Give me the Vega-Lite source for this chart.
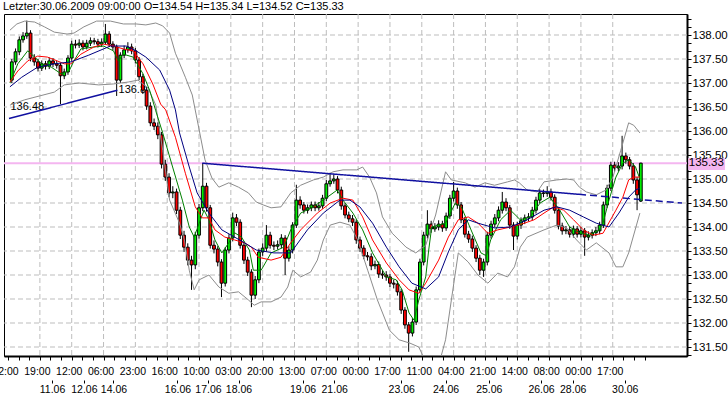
{
"$schema": "https://vega.github.io/schema/vega-lite/v6.json",
"width": 683, "height": 342,
"autosize": "none",
"padding": {"left": 4, "top": 14, "right": 41, "bottom": 43},
"background": "white",
"title": {"text": "Letzter:30.06.2009 09:00:00 O=134.54 H=135.34 L=134.52 C=135.33", "anchor": "start", "frame": "group", "offset": 1, "dy": 9, "baseline": "alphabetic", "font": "Liberation Sans", "fontSize": 11, "fontWeight": "normal", "color": "black", "dx": -1},
"config": {"view": {"stroke": "black", "strokeWidth": 1}, "font": "Liberation Sans"},
"datasets": {
"candles": [
{"b":1,"o":137.06,"h":137.50,"l":137.00,"c":137.44},
{"b":3,"o":137.44,"h":137.72,"l":137.38,"c":137.65},
{"b":5,"o":137.65,"h":137.97,"l":137.58,"c":137.90},
{"b":7,"o":137.90,"h":138.06,"l":137.84,"c":137.98},
{"b":9,"o":137.98,"h":138.30,"l":137.92,"c":138.04},
{"b":11,"o":138.04,"h":138.10,"l":137.45,"c":137.52},
{"b":13,"o":137.52,"h":137.60,"l":137.36,"c":137.44},
{"b":15,"o":137.44,"h":137.50,"l":137.24,"c":137.31},
{"b":17,"o":137.31,"h":137.47,"l":137.25,"c":137.40},
{"b":19,"o":137.40,"h":137.46,"l":137.28,"c":137.35},
{"b":21,"o":137.35,"h":137.53,"l":137.29,"c":137.46},
{"b":23,"o":137.46,"h":137.52,"l":137.33,"c":137.40},
{"b":25,"o":137.40,"h":137.46,"l":137.30,"c":137.37},
{"b":27,"o":137.37,"h":137.42,"l":136.56,"c":137.15},
{"b":29,"o":137.15,"h":137.30,"l":137.08,"c":137.23},
{"b":31,"o":137.23,"h":137.58,"l":137.17,"c":137.52},
{"b":33,"o":137.52,"h":137.88,"l":137.46,"c":137.81},
{"b":35,"o":137.81,"h":137.90,"l":137.72,"c":137.79},
{"b":37,"o":137.79,"h":137.91,"l":137.73,"c":137.83},
{"b":39,"o":137.83,"h":137.89,"l":137.68,"c":137.75},
{"b":41,"o":137.75,"h":137.90,"l":137.70,"c":137.83},
{"b":43,"o":137.83,"h":137.95,"l":137.77,"c":137.88},
{"b":45,"o":137.88,"h":137.94,"l":137.80,"c":137.86},
{"b":47,"o":137.86,"h":137.92,"l":137.74,"c":137.81},
{"b":49,"o":137.81,"h":137.93,"l":137.75,"c":137.85},
{"b":51,"o":137.85,"h":138.23,"l":137.80,"c":138.02},
{"b":53,"o":138.02,"h":138.08,"l":137.75,"c":137.81},
{"b":55,"o":137.81,"h":137.87,"l":137.68,"c":137.75},
{"b":57,"o":137.75,"h":137.80,"l":136.73,"c":137.06},
{"b":59,"o":137.06,"h":137.64,"l":137.00,"c":137.58},
{"b":61,"o":137.58,"h":137.78,"l":137.52,"c":137.69},
{"b":63,"o":137.69,"h":137.85,"l":137.63,"c":137.75},
{"b":65,"o":137.75,"h":137.82,"l":137.60,"c":137.67},
{"b":67,"o":137.67,"h":137.73,"l":137.41,"c":137.48},
{"b":69,"o":137.48,"h":137.54,"l":137.06,"c":137.13},
{"b":71,"o":137.13,"h":137.19,"l":136.77,"c":136.85},
{"b":73,"o":136.85,"h":136.92,"l":136.44,"c":136.52},
{"b":75,"o":136.52,"h":136.60,"l":136.10,"c":136.17},
{"b":77,"o":136.17,"h":136.26,"l":136.02,"c":136.10},
{"b":79,"o":136.10,"h":136.18,"l":135.83,"c":135.92},
{"b":81,"o":135.92,"h":135.98,"l":135.22,"c":135.31},
{"b":83,"o":135.31,"h":135.40,"l":134.96,"c":135.04},
{"b":85,"o":135.04,"h":135.12,"l":134.62,"c":134.71},
{"b":87,"o":134.71,"h":134.85,"l":134.60,"c":134.73},
{"b":89,"o":134.73,"h":134.80,"l":134.27,"c":134.35},
{"b":91,"o":134.35,"h":134.42,"l":133.75,"c":133.83},
{"b":93,"o":133.83,"h":133.92,"l":133.48,"c":133.58},
{"b":95,"o":133.58,"h":133.66,"l":133.20,"c":133.31},
{"b":97,"o":133.31,"h":133.40,"l":132.69,"c":133.21},
{"b":99,"o":133.21,"h":133.90,"l":133.12,"c":133.83},
{"b":101,"o":133.83,"h":134.48,"l":133.76,"c":134.40},
{"b":103,"o":134.40,"h":135.33,"l":134.33,"c":134.85},
{"b":105,"o":134.85,"h":134.92,"l":134.32,"c":134.40},
{"b":107,"o":134.40,"h":134.46,"l":133.55,"c":133.62},
{"b":109,"o":133.62,"h":133.72,"l":133.45,"c":133.54},
{"b":111,"o":133.54,"h":133.60,"l":133.18,"c":133.27},
{"b":113,"o":133.27,"h":133.33,"l":132.54,"c":132.83},
{"b":115,"o":132.83,"h":133.58,"l":132.76,"c":133.52},
{"b":117,"o":133.52,"h":133.85,"l":133.45,"c":133.77},
{"b":119,"o":133.77,"h":134.30,"l":133.70,"c":134.19},
{"b":121,"o":134.19,"h":134.27,"l":134.02,"c":134.10},
{"b":123,"o":134.10,"h":134.16,"l":133.55,"c":133.62},
{"b":125,"o":133.62,"h":133.70,"l":133.23,"c":133.31},
{"b":127,"o":133.31,"h":133.38,"l":132.98,"c":133.06},
{"b":129,"o":133.06,"h":133.12,"l":132.33,"c":132.58},
{"b":131,"o":132.58,"h":132.98,"l":132.50,"c":132.90},
{"b":133,"o":132.90,"h":133.55,"l":132.83,"c":133.48},
{"b":135,"o":133.48,"h":133.66,"l":133.40,"c":133.56},
{"b":137,"o":133.56,"h":134.04,"l":133.49,"c":133.83},
{"b":139,"o":133.83,"h":133.90,"l":133.55,"c":133.62},
{"b":141,"o":133.62,"h":133.70,"l":133.52,"c":133.60},
{"b":143,"o":133.60,"h":133.72,"l":133.53,"c":133.63},
{"b":145,"o":133.63,"h":133.85,"l":133.56,"c":133.77},
{"b":147,"o":133.77,"h":133.83,"l":133.00,"c":133.35},
{"b":149,"o":133.35,"h":133.60,"l":133.28,"c":133.52},
{"b":151,"o":133.52,"h":134.10,"l":133.45,"c":134.04},
{"b":153,"o":134.04,"h":134.88,"l":133.98,"c":134.56},
{"b":155,"o":134.56,"h":134.64,"l":134.38,"c":134.46},
{"b":157,"o":134.46,"h":134.52,"l":134.28,"c":134.35},
{"b":159,"o":134.35,"h":134.47,"l":134.28,"c":134.40},
{"b":161,"o":134.40,"h":134.53,"l":134.33,"c":134.46},
{"b":163,"o":134.46,"h":134.53,"l":134.33,"c":134.40},
{"b":165,"o":134.40,"h":134.52,"l":134.34,"c":134.44},
{"b":167,"o":134.44,"h":134.67,"l":134.38,"c":134.60},
{"b":169,"o":134.60,"h":134.98,"l":134.54,"c":134.90},
{"b":171,"o":134.90,"h":135.13,"l":134.84,"c":134.96},
{"b":173,"o":134.96,"h":135.10,"l":134.90,"c":135.00},
{"b":175,"o":135.00,"h":135.06,"l":134.70,"c":134.77},
{"b":177,"o":134.77,"h":134.84,"l":134.36,"c":134.44},
{"b":179,"o":134.44,"h":134.50,"l":134.18,"c":134.25},
{"b":181,"o":134.25,"h":134.32,"l":134.10,"c":134.17},
{"b":183,"o":134.17,"h":134.25,"l":134.02,"c":134.10},
{"b":185,"o":134.10,"h":134.16,"l":133.65,"c":133.73},
{"b":187,"o":133.73,"h":133.80,"l":133.48,"c":133.56},
{"b":189,"o":133.56,"h":133.62,"l":133.33,"c":133.40},
{"b":191,"o":133.40,"h":133.48,"l":133.30,"c":133.38},
{"b":193,"o":133.38,"h":133.45,"l":133.10,"c":133.19},
{"b":195,"o":133.19,"h":133.30,"l":133.12,"c":133.22},
{"b":197,"o":133.22,"h":133.28,"l":132.94,"c":133.02},
{"b":199,"o":133.02,"h":133.10,"l":132.92,"c":133.00},
{"b":201,"o":133.00,"h":133.08,"l":132.88,"c":132.96},
{"b":203,"o":132.96,"h":133.02,"l":132.75,"c":132.83},
{"b":205,"o":132.83,"h":132.90,"l":132.72,"c":132.81},
{"b":207,"o":132.81,"h":132.88,"l":132.57,"c":132.65},
{"b":209,"o":132.65,"h":132.71,"l":132.19,"c":132.27},
{"b":211,"o":132.27,"h":132.33,"l":131.88,"c":131.96},
{"b":213,"o":131.96,"h":132.02,"l":131.40,"c":131.79},
{"b":215,"o":131.79,"h":132.10,"l":131.72,"c":132.02},
{"b":217,"o":132.02,"h":132.76,"l":131.96,"c":132.69},
{"b":219,"o":132.69,"h":133.34,"l":132.62,"c":133.27},
{"b":221,"o":133.27,"h":133.90,"l":133.20,"c":133.83},
{"b":223,"o":133.83,"h":134.35,"l":133.76,"c":134.06},
{"b":225,"o":134.06,"h":134.13,"l":133.88,"c":133.96},
{"b":227,"o":133.96,"h":134.08,"l":133.90,"c":134.00},
{"b":229,"o":134.00,"h":134.14,"l":133.93,"c":134.06},
{"b":231,"o":134.06,"h":134.13,"l":133.90,"c":133.98},
{"b":233,"o":133.98,"h":134.30,"l":133.92,"c":134.23},
{"b":235,"o":134.23,"h":134.67,"l":134.17,"c":134.60},
{"b":237,"o":134.60,"h":134.94,"l":134.53,"c":134.75},
{"b":239,"o":134.75,"h":134.82,"l":134.38,"c":134.46},
{"b":241,"o":134.46,"h":134.52,"l":134.08,"c":134.15},
{"b":243,"o":134.15,"h":134.21,"l":133.78,"c":133.85},
{"b":245,"o":133.85,"h":133.92,"l":133.67,"c":133.75},
{"b":247,"o":133.75,"h":133.82,"l":133.48,"c":133.56},
{"b":249,"o":133.56,"h":133.62,"l":133.27,"c":133.35},
{"b":251,"o":133.35,"h":133.42,"l":133.00,"c":133.10},
{"b":253,"o":133.10,"h":133.34,"l":132.96,"c":133.27},
{"b":255,"o":133.27,"h":133.90,"l":133.20,"c":133.83},
{"b":257,"o":133.83,"h":134.13,"l":133.76,"c":134.06},
{"b":259,"o":134.06,"h":134.27,"l":133.99,"c":134.19},
{"b":261,"o":134.19,"h":134.43,"l":134.12,"c":134.35},
{"b":263,"o":134.35,"h":134.73,"l":134.28,"c":134.52},
{"b":265,"o":134.52,"h":134.60,"l":134.33,"c":134.40},
{"b":267,"o":134.40,"h":134.46,"l":133.96,"c":134.04},
{"b":269,"o":134.04,"h":134.10,"l":133.52,"c":133.81},
{"b":271,"o":133.81,"h":134.11,"l":133.74,"c":134.04},
{"b":273,"o":134.04,"h":134.20,"l":133.96,"c":134.13},
{"b":275,"o":134.13,"h":134.26,"l":134.06,"c":134.19},
{"b":277,"o":134.19,"h":134.29,"l":134.12,"c":134.21},
{"b":279,"o":134.21,"h":134.42,"l":134.14,"c":134.35},
{"b":281,"o":134.35,"h":134.63,"l":134.28,"c":134.56},
{"b":283,"o":134.56,"h":134.79,"l":134.50,"c":134.71},
{"b":285,"o":134.71,"h":134.78,"l":134.62,"c":134.70},
{"b":287,"o":134.70,"h":134.85,"l":134.63,"c":134.73},
{"b":289,"o":134.73,"h":134.80,"l":134.55,"c":134.62},
{"b":291,"o":134.62,"h":134.68,"l":134.28,"c":134.35},
{"b":293,"o":134.35,"h":134.41,"l":133.95,"c":134.02},
{"b":295,"o":134.02,"h":134.09,"l":133.84,"c":133.92},
{"b":297,"o":133.92,"h":134.02,"l":133.85,"c":133.94},
{"b":299,"o":133.94,"h":134.01,"l":133.78,"c":133.85},
{"b":301,"o":133.85,"h":134.03,"l":133.78,"c":133.96},
{"b":303,"o":133.96,"h":134.02,"l":133.78,"c":133.85},
{"b":305,"o":133.85,"h":134.00,"l":133.78,"c":133.92},
{"b":307,"o":133.92,"h":133.98,"l":133.40,"c":133.79},
{"b":309,"o":133.79,"h":133.91,"l":133.72,"c":133.83},
{"b":311,"o":133.83,"h":133.95,"l":133.76,"c":133.88},
{"b":313,"o":133.88,"h":134.00,"l":133.81,"c":133.92},
{"b":315,"o":133.92,"h":134.11,"l":133.85,"c":134.04},
{"b":317,"o":134.04,"h":134.53,"l":133.98,"c":134.46},
{"b":319,"o":134.46,"h":134.88,"l":134.40,"c":134.81},
{"b":321,"o":134.81,"h":135.36,"l":134.75,"c":135.29},
{"b":323,"o":135.29,"h":135.36,"l":135.15,"c":135.23},
{"b":325,"o":135.23,"h":135.35,"l":135.16,"c":135.27},
{"b":327,"o":135.27,"h":135.90,"l":135.20,"c":135.48},
{"b":329,"o":135.48,"h":135.55,"l":135.32,"c":135.40},
{"b":331,"o":135.40,"h":135.46,"l":135.20,"c":135.27},
{"b":333,"o":135.27,"h":135.33,"l":134.90,"c":134.98},
{"b":335,"o":134.98,"h":135.04,"l":134.35,"c":134.67},
{"b":337,"o":134.54,"h":135.34,"l":134.52,"c":135.33}
],
"ma": [
{"s":"g","b":0,"p":137.00},{"s":"g","b":4.2,"p":137.40},{"s":"g","b":9.5,"p":137.67},{"s":"g","b":13.2,"p":137.54},{"s":"g","b":16.9,"p":137.40},{"s":"g","b":22.1,"p":137.33},{"s":"g","b":27.4,"p":137.19},{"s":"g","b":31.6,"p":137.25},{"s":"g","b":34.2,"p":137.46},{"s":"g","b":37.9,"p":137.71},{"s":"g","b":44.8,"p":137.75},{"s":"g","b":50,"p":137.77},{"s":"g","b":55.3,"p":137.67},{"s":"g","b":57.9,"p":137.46},{"s":"g","b":60.6,"p":137.60},{"s":"g","b":65.8,"p":137.54},{"s":"g","b":71.1,"p":137.19},{"s":"g","b":74.8,"p":136.83},{"s":"g","b":77.9,"p":136.42},{"s":"g","b":81.6,"p":135.96},{"s":"g","b":86.9,"p":135.25},{"s":"g","b":92.1,"p":134.56},{"s":"g","b":95.8,"p":134.00},{"s":"g","b":98.4,"p":133.79},{"s":"g","b":101.1,"p":134.08},{"s":"g","b":103.7,"p":134.35},{"s":"g","b":106.3,"p":134.15},{"s":"g","b":109.5,"p":133.73},{"s":"g","b":113.2,"p":133.46},{"s":"g","b":116.9,"p":133.67},{"s":"g","b":120,"p":133.88},{"s":"g","b":123.7,"p":133.79},{"s":"g","b":127.9,"p":133.52},{"s":"g","b":130,"p":133.10},{"s":"g","b":134.2,"p":133.10},{"s":"g","b":139.5,"p":133.46},{"s":"g","b":146.3,"p":133.58},{"s":"g","b":150,"p":133.94},{"s":"g","b":155.3,"p":134.29},{"s":"g","b":162.1,"p":134.42},{"s":"g","b":169.5,"p":134.62},{"s":"g","b":174.8,"p":134.77},{"s":"g","b":177.9,"p":134.56},{"s":"g","b":183.2,"p":134.29},{"s":"g","b":188.4,"p":133.94},{"s":"g","b":193.7,"p":133.46},{"s":"g","b":201.1,"p":132.96},{"s":"g","b":206.3,"p":132.90},{"s":"g","b":209.5,"p":132.69},{"s":"g","b":213.2,"p":132.21},{"s":"g","b":215.8,"p":132.06},{"s":"g","b":218.4,"p":132.48},{"s":"g","b":222.1,"p":132.96},{"s":"g","b":223.7,"p":133.52},{"s":"g","b":225.3,"p":134.00},{"s":"g","b":232.7,"p":134.08},{"s":"g","b":237.9,"p":134.50},{"s":"g","b":241.1,"p":134.42},{"s":"g","b":246.3,"p":133.94},{"s":"g","b":251.6,"p":133.46},{"s":"g","b":254.5,"p":133.40},{"s":"g","b":256.8,"p":133.73},{"s":"g","b":262.1,"p":134.15},{"s":"g","b":267.4,"p":134.35},{"s":"g","b":272.6,"p":134.15},{"s":"g","b":277.9,"p":134.21},{"s":"g","b":283.2,"p":134.50},{"s":"g","b":288.4,"p":134.62},{"s":"g","b":293.7,"p":134.35},{"s":"g","b":299,"p":134.00},{"s":"g","b":304.2,"p":133.88},{"s":"g","b":309.5,"p":133.83},{"s":"g","b":314.8,"p":133.94},{"s":"g","b":316.8,"p":134.08},{"s":"g","b":320,"p":134.56},{"s":"g","b":323.7,"p":135.04},{"s":"g","b":327.4,"p":135.33},{"s":"g","b":330.5,"p":135.40},{"s":"g","b":334.2,"p":135.25},{"s":"g","b":336.5,"p":135.00},
{"s":"r","b":0,"p":137.02},{"s":"r","b":4.2,"p":137.25},{"s":"r","b":9.5,"p":137.46},{"s":"r","b":14.8,"p":137.56},{"s":"r","b":20,"p":137.54},{"s":"r","b":25.3,"p":137.46},{"s":"r","b":29,"p":137.40},{"s":"r","b":32.6,"p":137.40},{"s":"r","b":37.9,"p":137.60},{"s":"r","b":44.8,"p":137.75},{"s":"r","b":50,"p":137.81},{"s":"r","b":55.3,"p":137.77},{"s":"r","b":60.6,"p":137.71},{"s":"r","b":65.8,"p":137.67},{"s":"r","b":71.1,"p":137.40},{"s":"r","b":76.3,"p":136.98},{"s":"r","b":80.5,"p":136.56},{"s":"r","b":83.2,"p":136.44},{"s":"r","b":88.4,"p":135.87},{"s":"r","b":93.7,"p":135.12},{"s":"r","b":99,"p":134.42},{"s":"r","b":102.7,"p":134.19},{"s":"r","b":106.3,"p":134.19},{"s":"r","b":109.5,"p":133.94},{"s":"r","b":114.8,"p":133.79},{"s":"r","b":120,"p":133.73},{"s":"r","b":125.3,"p":133.67},{"s":"r","b":129,"p":133.58},{"s":"r","b":132.6,"p":133.37},{"s":"r","b":139.5,"p":133.31},{"s":"r","b":144.8,"p":133.37},{"s":"r","b":150,"p":133.67},{"s":"r","b":155.3,"p":133.94},{"s":"r","b":164.2,"p":134.29},{"s":"r","b":171.1,"p":134.50},{"s":"r","b":177.9,"p":134.60},{"s":"r","b":183.2,"p":134.56},{"s":"r","b":188.4,"p":134.21},{"s":"r","b":193.7,"p":133.73},{"s":"r","b":201.1,"p":133.25},{"s":"r","b":207.9,"p":132.90},{"s":"r","b":213.2,"p":132.69},{"s":"r","b":218.4,"p":132.62},{"s":"r","b":222.1,"p":132.83},{"s":"r","b":229,"p":133.31},{"s":"r","b":234.2,"p":133.79},{"s":"r","b":239.5,"p":134.15},{"s":"r","b":244.8,"p":134.21},{"s":"r","b":250,"p":134.08},{"s":"r","b":255.3,"p":133.87},{"s":"r","b":260.6,"p":133.94},{"s":"r","b":267.4,"p":134.00},{"s":"r","b":274.8,"p":134.08},{"s":"r","b":280,"p":134.15},{"s":"r","b":285.3,"p":134.29},{"s":"r","b":290.5,"p":134.42},{"s":"r","b":295.8,"p":134.35},{"s":"r","b":301.1,"p":134.15},{"s":"r","b":306.3,"p":133.94},{"s":"r","b":311.6,"p":133.83},{"s":"r","b":316.8,"p":133.87},{"s":"r","b":323.7,"p":134.35},{"s":"r","b":327.4,"p":134.62},{"s":"r","b":330.5,"p":134.98},{"s":"r","b":333.2,"p":135.04},{"s":"r","b":336.5,"p":135.04},
{"s":"n","b":0,"p":136.92},{"s":"n","b":6.3,"p":137.12},{"s":"n","b":14.8,"p":137.33},{"s":"n","b":23.7,"p":137.40},{"s":"n","b":32.6,"p":137.44},{"s":"n","b":42.1,"p":137.58},{"s":"n","b":50,"p":137.71},{"s":"n","b":53.7,"p":137.77},{"s":"n","b":62.1,"p":137.77},{"s":"n","b":67.4,"p":137.67},{"s":"n","b":72.6,"p":137.54},{"s":"n","b":80,"p":137.27},{"s":"n","b":85.3,"p":136.85},{"s":"n","b":88.4,"p":136.44},{"s":"n","b":90.6,"p":135.96},{"s":"n","b":95.8,"p":135.25},{"s":"n","b":100,"p":134.71},{"s":"n","b":106.3,"p":134.29},{"s":"n","b":113.2,"p":133.94},{"s":"n","b":120,"p":133.79},{"s":"n","b":125.3,"p":133.67},{"s":"n","b":131.6,"p":133.52},{"s":"n","b":141,"p":133.46},{"s":"n","b":150,"p":133.46},{"s":"n","b":158.9,"p":133.94},{"s":"n","b":167.4,"p":134.29},{"s":"n","b":176.3,"p":134.56},{"s":"n","b":181.6,"p":134.56},{"s":"n","b":186.9,"p":134.42},{"s":"n","b":193.7,"p":134.08},{"s":"n","b":201.1,"p":133.58},{"s":"n","b":207.9,"p":133.17},{"s":"n","b":214.7,"p":132.83},{"s":"n","b":222.1,"p":132.71},{"s":"n","b":229,"p":132.96},{"s":"n","b":234.2,"p":133.48},{"s":"n","b":239.5,"p":133.94},{"s":"n","b":244.8,"p":134.15},{"s":"n","b":250,"p":134.08},{"s":"n","b":258.9,"p":133.98},{"s":"n","b":267.4,"p":134.00},{"s":"n","b":276.3,"p":134.15},{"s":"n","b":285.3,"p":134.35},{"s":"n","b":292.1,"p":134.42},{"s":"n","b":299,"p":134.35},{"s":"n","b":306.3,"p":134.21},{"s":"n","b":313.2,"p":134.08},{"s":"n","b":320,"p":134.00},{"s":"n","b":325.3,"p":134.29},{"s":"n","b":330.5,"p":134.62},{"s":"n","b":334.2,"p":134.77},{"s":"n","b":336.5,"p":134.81}
],
"bands": [
{"s":"up","b":0,"p":138.10},{"s":"up","b":3.7,"p":138.23},{"s":"up","b":7.9,"p":138.29},{"s":"up","b":13.2,"p":138.27},{"s":"up","b":18.4,"p":138.17},{"s":"up","b":23.7,"p":138.06},{"s":"up","b":30.5,"p":138.02},{"s":"up","b":34.2,"p":138.04},{"s":"up","b":39.5,"p":138.17},{"s":"up","b":46.3,"p":138.29},{"s":"up","b":53.7,"p":138.29},{"s":"up","b":60.6,"p":138.23},{"s":"up","b":67.4,"p":138.23},{"s":"up","b":72.6,"p":138.21},{"s":"up","b":77.9,"p":138.25},{"s":"up","b":81.6,"p":138.19},{"s":"up","b":85.3,"p":138.04},{"s":"up","b":88.4,"p":137.62},{"s":"up","b":93.7,"p":137.12},{"s":"up","b":97.4,"p":136.75},{"s":"up","b":101.1,"p":136.02},{"s":"up","b":104.2,"p":135.40},{"s":"up","b":107.9,"p":135.02},{"s":"up","b":111.6,"p":134.83},{"s":"up","b":116.9,"p":134.92},{"s":"up","b":122.1,"p":134.83},{"s":"up","b":127.4,"p":134.71},{"s":"up","b":131.6,"p":134.52},{"s":"up","b":135.3,"p":134.46},{"s":"up","b":139.5,"p":134.40},{"s":"up","b":144.8,"p":134.42},{"s":"up","b":150,"p":134.71},{"s":"up","b":155.3,"p":134.87},{"s":"up","b":162.1,"p":134.98},{"s":"up","b":167.4,"p":135.04},{"s":"up","b":172.6,"p":135.15},{"s":"up","b":177.9,"p":135.19},{"s":"up","b":185.3,"p":135.19},{"s":"up","b":188.4,"p":135.25},{"s":"up","b":192.1,"p":135.04},{"s":"up","b":195.8,"p":134.71},{"s":"up","b":199,"p":134.21},{"s":"up","b":204.2,"p":133.87},{"s":"up","b":211.6,"p":133.58},{"s":"up","b":216.8,"p":133.46},{"s":"up","b":222.1,"p":133.62},{"s":"up","b":227.4,"p":134.25},{"s":"up","b":232.7,"p":135.15},{"s":"up","b":235.8,"p":134.98},{"s":"up","b":243.2,"p":134.92},{"s":"up","b":248.4,"p":134.83},{"s":"up","b":253.7,"p":134.92},{"s":"up","b":258.9,"p":134.87},{"s":"up","b":265.8,"p":134.94},{"s":"up","b":269.5,"p":134.98},{"s":"up","b":272.1,"p":134.92},{"s":"up","b":276.3,"p":134.77},{"s":"up","b":281.6,"p":134.73},{"s":"up","b":285.3,"p":134.94},{"s":"up","b":292.1,"p":134.98},{"s":"up","b":297.4,"p":135.00},{"s":"up","b":301.1,"p":134.98},{"s":"up","b":304.2,"p":134.83},{"s":"up","b":307.9,"p":134.73},{"s":"up","b":313.2,"p":134.67},{"s":"up","b":318.4,"p":134.77},{"s":"up","b":322.1,"p":135.04},{"s":"up","b":326.3,"p":135.60},{"s":"up","b":330.5,"p":136.17},{"s":"up","b":333.2,"p":136.12},{"s":"up","b":336.5,"p":135.96},
{"s":"lo","b":0,"p":136.54},{"s":"lo","b":7.9,"p":136.65},{"s":"lo","b":15.8,"p":136.73},{"s":"lo","b":23.7,"p":136.81},{"s":"lo","b":29,"p":136.96},{"s":"lo","b":36.9,"p":137.00},{"s":"lo","b":47.4,"p":136.96},{"s":"lo","b":55.3,"p":136.98},{"s":"lo","b":63.2,"p":137.02},{"s":"lo","b":68.4,"p":137.06},{"s":"lo","b":73.7,"p":136.90},{"s":"lo","b":77.9,"p":136.54},{"s":"lo","b":81.6,"p":135.60},{"s":"lo","b":85.3,"p":134.56},{"s":"lo","b":90.6,"p":134.08},{"s":"lo","b":93.2,"p":133.73},{"s":"lo","b":95.8,"p":133.10},{"s":"lo","b":98.4,"p":132.69},{"s":"lo","b":101.1,"p":132.90},{"s":"lo","b":106.3,"p":133.00},{"s":"lo","b":111.6,"p":132.75},{"s":"lo","b":116.9,"p":132.62},{"s":"lo","b":122.1,"p":132.65},{"s":"lo","b":127.4,"p":132.48},{"s":"lo","b":130.5,"p":132.37},{"s":"lo","b":134.2,"p":132.44},{"s":"lo","b":139.5,"p":132.44},{"s":"lo","b":144.8,"p":132.54},{"s":"lo","b":148.4,"p":132.75},{"s":"lo","b":151.1,"p":133.10},{"s":"lo","b":155.3,"p":132.96},{"s":"lo","b":160.6,"p":133.06},{"s":"lo","b":164.2,"p":133.31},{"s":"lo","b":167.4,"p":133.73},{"s":"lo","b":171.1,"p":134.04},{"s":"lo","b":176.3,"p":134.10},{"s":"lo","b":181.6,"p":134.04},{"s":"lo","b":185.8,"p":133.73},{"s":"lo","b":191.1,"p":133.10},{"s":"lo","b":196.3,"p":132.48},{"s":"lo","b":202.7,"p":131.85},{"s":"lo","b":207.9,"p":131.65},{"s":"lo","b":213.7,"p":131.58},{"s":"lo","b":218.4,"p":131.50},{"s":"lo","b":222.1,"p":131.19},{"s":"lo","b":229.5,"p":131.19},{"s":"lo","b":232.7,"p":131.65},{"s":"lo","b":235.8,"p":132.48},{"s":"lo","b":239.5,"p":133.46},{"s":"lo","b":244.8,"p":133.27},{"s":"lo","b":250,"p":133.00},{"s":"lo","b":255.3,"p":132.83},{"s":"lo","b":260.6,"p":133.04},{"s":"lo","b":265.8,"p":132.96},{"s":"lo","b":269.5,"p":133.17},{"s":"lo","b":272.6,"p":133.58},{"s":"lo","b":276.3,"p":133.79},{"s":"lo","b":285.3,"p":133.94},{"s":"lo","b":292.1,"p":134.04},{"s":"lo","b":297.4,"p":133.98},{"s":"lo","b":302.7,"p":133.73},{"s":"lo","b":307.9,"p":133.52},{"s":"lo","b":313.2,"p":133.67},{"s":"lo","b":320,"p":133.46},{"s":"lo","b":323.7,"p":133.17},{"s":"lo","b":327.4,"p":133.17},{"s":"lo","b":330.5,"p":133.46},{"s":"lo","b":336.5,"p":134.29}
],
"trend": [
{"s":"L1","b":-0.5,"p":136.26},{"s":"L1","b":57.4,"p":136.85},
{"s":"L2a","b":102.7,"p":135.33},{"s":"L2a","b":304,"p":134.68},
{"s":"L2b","b":304,"p":134.68},{"s":"L2b","b":359,"p":134.50}
],
"vgrid": [{"b":16},{"b":33},{"b":50},{"b":67},{"b":84},{"b":101},{"b":118},{"b":135},{"b":152},{"b":169},{"b":186},{"b":203},{"b":220},{"b":237},{"b":254},{"b":271},{"b":288},{"b":305},{"b":322}],
"hgrid": [{"p":131.5},{"p":132},{"p":132.5},{"p":133},{"p":133.5},{"p":134},{"p":134.5},{"p":135},{"p":135.5},{"p":136},{"p":136.5},{"p":137},{"p":137.5},{"p":138}],
"labels": [{"b":0.3,"p":136.44,"t":"136.48"},{"b":58,"p":136.79,"t":"136.8"}],
"last": [{"p":135.33,"t":"135.33"}],
"dates": [{"b":22.5},{"b":39.5},{"b":55.3},{"b":89.5},{"b":105.8},{"b":122.1},{"b":156.3},{"b":173.2},{"b":209},{"b":232.7},{"b":255.8},{"b":283.7},{"b":300.6},{"b":328.4}]
},
"layer": [
{"data": {"name": "hgrid"}, "mark": {"type": "point", "opacity": 0},
 "encoding": {"y": {"field": "p", "type": "quantitative", "scale": {"domain": [131.3125, 138.4375], "nice": false, "zero": false},
   "axis": {"orient": "right", "title": null, "grid": false, "domain": true, "domainColor": "black", "domainWidth": 2, "ticks": true, "tickColor": "black", "tickSize": 4, "tickWidth": 1,
     "labelFont": "Liberation Sans", "labelFontSize": 11.5, "labelColor": "black", "labelPadding": 1, "labelOverlap": false, "labelFlush": false, "labelBound": false,
     "values": [131.3333,131.5,131.6667,131.8333,132,132.1667,132.3333,132.5,132.6667,132.8333,133,133.1667,133.3333,133.5,133.6667,133.8333,134,134.1667,134.3333,134.5,134.6667,134.8333,135,135.1667,135.3333,135.5,135.6667,135.8333,136,136.1667,136.3333,136.5,136.6667,136.8333,137,137.1667,137.3333,137.5,137.6667,137.8333,138,138.1667,138.3333],
     "labelExpr": "abs(datum.value*2 - round(datum.value*2)) < 0.01 ? format(datum.value, '.2f') : ''"}}}},
{"data": {"name": "vgrid"}, "mark": {"type": "rule", "color": "#bdbdbd", "strokeWidth": 1, "strokeDash": [5, 3]},
 "encoding": {"x": {"field": "b", "type": "quantitative", "scale": {"domain": [-0.5, 359], "nice": false, "zero": false}, "axis": null}}},
{"data": {"name": "hgrid"}, "mark": {"type": "rule", "color": "#bdbdbd", "strokeWidth": 1, "strokeDash": [5, 3]},
 "encoding": {"y": {"field": "p", "type": "quantitative", "scale": {"domain": [131.3125, 138.4375], "nice": false, "zero": false}, "axis": null}}},
{"data": {"name": "last"}, "mark": {"type": "rule", "color": "#f4b6f0", "strokeWidth": 2},
 "encoding": {"y": {"field": "p", "type": "quantitative", "scale": {"domain": [131.3125, 138.4375], "nice": false, "zero": false}, "axis": null}}},
{"data": {"name": "labels"}, "mark": {"type": "text", "align": "left", "baseline": "alphabetic", "font": "Liberation Sans", "fontSize": 11, "color": "black"},
 "encoding": {"x": {"field": "b", "type": "quantitative", "scale": {"domain": [-0.5, 359], "nice": false, "zero": false}, "axis": null},
   "y": {"field": "p", "type": "quantitative", "scale": {"domain": [131.3125, 138.4375], "nice": false, "zero": false}, "axis": null},
   "text": {"field": "t"}}},
{"data": {"name": "candles"}, "mark": {"type": "rule", "color": "black", "strokeWidth": 1},
 "encoding": {"x": {"field": "b", "type": "quantitative", "scale": {"domain": [-0.5, 359], "nice": false, "zero": false},
   "axis": {"orient": "bottom", "title": null, "grid": false, "domain": true, "domainColor": "black", "domainWidth": 2, "ticks": true, "tickColor": "black", "tickSize": 4, "tickWidth": 1,
     "labelFont": "Liberation Sans", "labelFontSize": 10.5, "labelColor": "black", "labelPadding": 6, "labelOverlap": false, "labelFlush": false, "labelBound": false, "labelOffset": -3,
     "values": [-1,4.667,10.333,16,21.667,27.333,33,38.667,44.333,50,55.667,61.333,67,72.667,78.333,84,89.667,95.333,101,106.667,112.333,118,123.667,129.333,135,140.667,146.333,152,157.667,163.333,169,174.667,180.333,186,191.667,197.333,203,208.667,214.333,220,225.667,231.333,237,242.667,248.333,254,259.667,265.333,271,276.667,282.333,288,293.667,299.333,305,310.667,316.333,322,327.667,333.333,339],
     "labelExpr": "abs((datum.value+1)/17 - round((datum.value+1)/17)) < 0.02 ? ['02:00','19:00','12:00','06:00','23:00','16:00','10:00','03:00','20:00','13:00','07:00','00:00','17:00','11:00','04:00','21:00','14:00','08:00','00:00','17:00'][round((datum.value+1)/17)] : ''"}},
   "y": {"field": "l", "type": "quantitative", "scale": {"domain": [131.3125, 138.4375], "nice": false, "zero": false}, "axis": null},
   "y2": {"field": "h"}}},
{"data": {"name": "candles"}, "mark": {"type": "bar", "width": 2.8, "stroke": "black", "strokeWidth": 1},
 "encoding": {"x": {"field": "b", "type": "quantitative", "scale": {"domain": [-0.5, 359], "nice": false, "zero": false}, "axis": null},
   "y": {"field": "o", "type": "quantitative", "scale": {"domain": [131.3125, 138.4375], "nice": false, "zero": false}, "axis": null},
   "y2": {"field": "c"},
   "color": {"condition": {"test": "datum.c >= datum.o", "value": "#00ee00"}, "value": "#ff0000"}}},
{"data": {"name": "bands"}, "mark": {"type": "line", "color": "#8c8c8c", "strokeWidth": 1, "clip": true},
 "encoding": {"x": {"field": "b", "type": "quantitative", "scale": {"domain": [-0.5, 359], "nice": false, "zero": false}, "axis": null},
   "y": {"field": "p", "type": "quantitative", "scale": {"domain": [131.3125, 138.4375], "nice": false, "zero": false}, "axis": null},
   "detail": {"field": "s"}}},
{"data": {"name": "ma"}, "mark": {"type": "line", "strokeWidth": 1, "clip": true},
 "encoding": {"x": {"field": "b", "type": "quantitative", "scale": {"domain": [-0.5, 359], "nice": false, "zero": false}, "axis": null},
   "y": {"field": "p", "type": "quantitative", "scale": {"domain": [131.3125, 138.4375], "nice": false, "zero": false}, "axis": null},
   "color": {"field": "s", "type": "nominal", "scale": {"domain": ["g", "r", "n"], "range": ["#008000", "#ff0000", "#000080"]}, "legend": null}}},
{"data": {"name": "trend"}, "mark": {"type": "line", "color": "#1010a0", "strokeWidth": 1.5, "clip": true},
 "encoding": {"x": {"field": "b", "type": "quantitative", "scale": {"domain": [-0.5, 359], "nice": false, "zero": false}, "axis": null},
   "y": {"field": "p", "type": "quantitative", "scale": {"domain": [131.3125, 138.4375], "nice": false, "zero": false}, "axis": null},
   "detail": {"field": "s"},
   "strokeDash": {"field": "s", "type": "nominal", "scale": {"domain": ["L1", "L2a", "L2b"], "range": [[1, 0], [1, 0], [7, 4]]}, "legend": null}}},
{"data": {"name": "last"}, "mark": {"type": "rect", "color": "#f4b6f0"},
 "encoding": {"x": {"datum": 362.3, "type": "quantitative", "scale": {"domain": [-0.5, 359], "nice": false, "zero": false}, "axis": null},
   "x2": {"datum": 382},
   "y": {"datum": 135.44, "type": "quantitative", "scale": {"domain": [131.3125, 138.4375], "nice": false, "zero": false}, "axis": null},
   "y2": {"datum": 135.19}}},
{"data": {"name": "last"}, "mark": {"type": "text", "align": "left", "baseline": "middle", "font": "Liberation Sans", "fontSize": 11.5, "color": "black"},
 "encoding": {"x": {"datum": 362.6, "type": "quantitative", "scale": {"domain": [-0.5, 359], "nice": false, "zero": false}, "axis": null},
   "y": {"field": "p", "type": "quantitative", "scale": {"domain": [131.3125, 138.4375], "nice": false, "zero": false}, "axis": null},
   "text": {"field": "t"}}},
{"data": {"name": "dates"}, "mark": {"type": "point", "opacity": 0},
 "encoding": {"x": {"field": "b", "type": "quantitative", "scale": {"domain": [-0.5, 359], "nice": false, "zero": false},
   "axis": {"orient": "bottom", "offset": 24, "title": null, "grid": false, "domain": false, "ticks": true, "tickColor": "black", "tickSize": 3, "tickWidth": 1,
     "labelFont": "Liberation Sans", "labelFontSize": 10.5, "labelColor": "black", "labelPadding": 1, "labelOverlap": false, "labelFlush": false, "labelBound": false,
     "values": [22.5,39.5,55.3,89.5,105.8,122.1,156.3,173.2,209,232.7,255.8,283.7,300.6,328.4],
     "labelExpr": "['11.06','12.06','14.06','16.06','17.06','18.06','19.06','21.06','23.06','24.06','25.06','26.06','28.06','30.06'][indexof([22.5,39.5,55.3,89.5,105.8,122.1,156.3,173.2,209,232.7,255.8,283.7,300.6,328.4], datum.value)]"}}}}
],
"resolve": {"axis": {"x": "independent", "y": "independent"}}
}
